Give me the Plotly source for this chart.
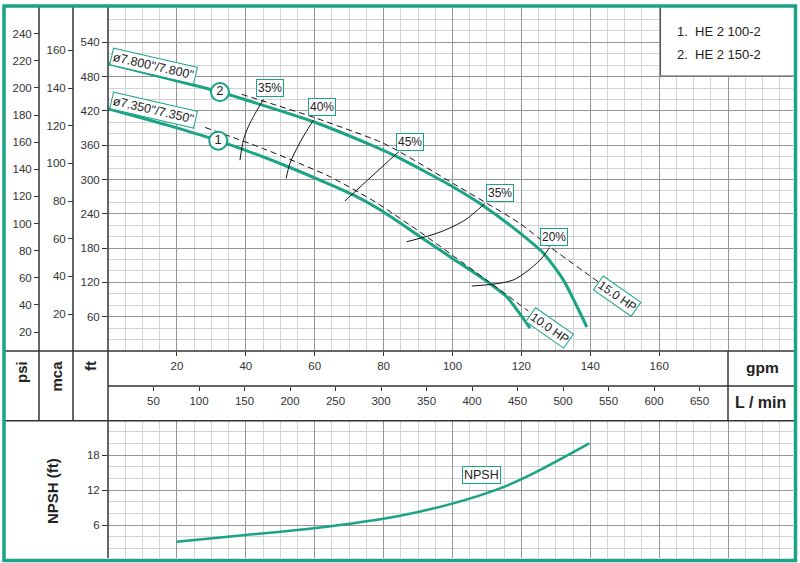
import plotly.graph_objects as go

# ---------------- data ----------------
# pump curve 1 : HE 2 100-2, impeller ø7.350"
q1_gpm = [0, 18.5, 32, 52.8, 71.2, 79, 90.6, 100, 109.9, 115.7, 122.5]
h1_ft = [424, 393, 368, 321, 273, 247, 200, 162, 122, 95, 40]
# pump curve 2 : HE 2 150-2, impeller ø7.800"
q2_gpm = [0, 18.5, 32.5, 59.6, 76.1, 83.8, 100.2, 108.5, 118.6, 126.4, 132.2, 139.0]
h2_ft = [503, 475, 453, 401, 361, 340, 287, 256, 211, 171, 124, 42]
# power limit lines (dashed)
q_10hp = [28.2, 45.1, 64.4, 77.5, 90.6, 109.9, 122]
h_10hp = [391, 354, 305, 261, 208, 124, 70]
q_15hp = [38.8, 59.6, 79, 84.8, 100.2, 119.6, 128.3, 142.3]
h_15hp = [449, 409, 366, 348, 293, 223, 182, 121]
# efficiency iso-lines
eff_names = ["35%", "40%", "45%", "35%", "20%"]
eff_q = [
    [38.3, 39.3, 40.7, 42.7, 45.1],
    [51.7, 52.8, 54.8, 57.2, 59.6],
    [68.8, 76.6, 84.3],
    [86.7, 96.4, 103.6, 109.4],
    [105.6, 117.6, 125.4, 128.1],
]
eff_h = [
    [333.7, 368.7, 392, 415.3, 439.8],
    [301.8, 328, 354.2, 380.4, 403.6],
    [262.6, 305.8, 348.2],
    [191, 208, 229, 258],
    [113.6, 124.1, 159, 180.5],
]
eff_label_q = [47.0, 62.0, 87.7, 113.9, 129.4]
eff_label_h = [459.5, 426.7, 365.2, 277, 199.5]
# NPSH curve
npsh_q = [19.9, 40, 59.6, 84.8, 100.2, 113.8, 123.5, 139.7]
npsh_ft = [3.13, 4.28, 5.43, 7.6, 9.72, 12.29, 14.86, 20.0]
# tick labels
ft_ticks = [60, 120, 180, 240, 300, 360, 420, 480, 540]
psi_ticks = [20, 40, 60, 80, 100, 120, 140, 160, 180, 200, 220, 240]
mca_ticks = [20, 40, 60, 80, 100, 120, 140, 160]
gpm_ticks = [20, 40, 60, 80, 100, 120, 140, 160]
lmin_ticks = [50, 100, 150, 200, 250, 300, 350, 400, 450, 500, 550, 600, 650]
npsh_ticks = [6, 12, 18]
legend_lines = ["1.  HE 2 100-2", "2.  HE 2 150-2"]

# ---------------- styling / geometry ----------------
GREEN = "#1aa385"
MAJOR = "#969696"
MINOR = "#d3d3d3"
LINE = "#333333"
FONT = "Arial, Liberation Sans, sans-serif"
W, H = 800, 563


def fx(p):
    return p / W


def fy(p):
    return 1 - p / H


X0, X1 = 108, 793
Y_TOP, Y_BOT = 8, 351
NP_TOP, NP_BOT = 420.7, 558
PX_PER_GPM = 3.445
GPM_MAX = (X1 - X0) / PX_PER_GPM
LMIN_MAX = GPM_MAX * 3.78541

fig = go.Figure()

# pump curves
for q, h in [(q1_gpm, h1_ft), (q2_gpm, h2_ft)]:
    fig.add_trace(go.Scatter(x=q, y=h, mode="lines",
                             line=dict(color=GREEN, width=3, shape="spline", smoothing=0.6),
                             hoverinfo="skip", showlegend=False))
# HP lines
for q, h in [(q_10hp, h_10hp), (q_15hp, h_15hp)]:
    fig.add_trace(go.Scatter(x=q, y=h, mode="lines",
                             line=dict(color="#111111", width=1, dash="6px,4px", shape="spline", smoothing=0.6),
                             hoverinfo="skip", showlegend=False))
# efficiency lines
for q, h in zip(eff_q, eff_h):
    fig.add_trace(go.Scatter(x=q, y=h, mode="lines",
                             line=dict(color="#111111", width=1, shape="spline", smoothing=0.8),
                             hoverinfo="skip", showlegend=False))
# curve number circles
fig.add_trace(go.Scatter(x=[q2_gpm[2], q1_gpm[2]], y=[h2_ft[2], h1_ft[2]], mode="markers+text",
                         text=["2", "1"], textposition="middle center",
                         textfont=dict(family=FONT, size=13, color="#222"),
                         marker=dict(size=18, color="white", line=dict(color=GREEN, width=2)),
                         hoverinfo="skip", showlegend=False))
# dummy traces to bind the secondary scales
fig.add_trace(go.Scatter(x=[None], y=[None], xaxis="x2", yaxis="y", showlegend=False, hoverinfo="skip"))
fig.add_trace(go.Scatter(x=[None], y=[None], xaxis="x3", yaxis="y", showlegend=False, hoverinfo="skip"))
fig.add_trace(go.Scatter(x=[None], y=[None], xaxis="x", yaxis="y2", showlegend=False, hoverinfo="skip"))
fig.add_trace(go.Scatter(x=[None], y=[None], xaxis="x", yaxis="y3", showlegend=False, hoverinfo="skip"))
# NPSH
fig.add_trace(go.Scatter(x=npsh_q, y=npsh_ft, mode="lines", xaxis="x4", yaxis="y4",
                         line=dict(color=GREEN, width=2.5, shape="spline", smoothing=0.8),
                         hoverinfo="skip", showlegend=False))

tickfont = dict(family=FONT, size=11.5, color="#333")
main_dom_y = [fy(Y_BOT), fy(Y_TOP)]
dom_x = [fx(X0), fx(X1)]

fig.update_layout(
    width=W, height=H, margin=dict(l=0, r=0, t=0, b=0), autosize=False,
    paper_bgcolor="white", plot_bgcolor="white",
    xaxis=dict(domain=dom_x, range=[0, GPM_MAX], anchor="y", dtick=20, tick0=0,
               showgrid=True, gridcolor=MAJOR, gridwidth=1.2, zeroline=False,
               showticklabels=False, ticks="", showline=False,
               minor=dict(dtick=5, tick0=0, showgrid=True, gridcolor=MINOR, gridwidth=1)),
    yaxis=dict(domain=main_dom_y, range=[0, 600], anchor="x", tickvals=ft_ticks,
               showgrid=True, gridcolor=MAJOR, gridwidth=1.2, zeroline=False,
               ticks="outside", ticklen=5, tickcolor=LINE, tickfont=tickfont, showline=False,
               minor=dict(dtick=20, tick0=0, showgrid=True, gridcolor=MINOR, gridwidth=1)),
    yaxis2=dict(overlaying="y", anchor="free", position=fx(39), side="left",
                range=[6, 258.9], tickvals=psi_ticks, showgrid=False, zeroline=False,
                ticks="outside", ticklen=5, tickcolor=LINE, tickfont=tickfont, showline=False),
    yaxis3=dict(overlaying="y", anchor="free", position=fx(73), side="left",
                range=[0.4, 182.5], tickvals=mca_ticks, showgrid=False, zeroline=False,
                ticks="outside", ticklen=5, tickcolor=LINE, tickfont=tickfont, showline=False),
    xaxis2=dict(overlaying="x", anchor="free", position=fy(Y_BOT), side="bottom",
                range=[0, GPM_MAX], tickvals=gpm_ticks, showgrid=False, zeroline=False,
                ticks="outside", ticklen=4, tickcolor=LINE, tickfont=tickfont, showline=False),
    xaxis3=dict(overlaying="x", anchor="free", position=fy(386), side="bottom",
                range=[0, LMIN_MAX], tickvals=lmin_ticks, showgrid=False, zeroline=False,
                ticks="outside", ticklen=4, tickcolor=LINE, tickfont=tickfont, showline=False),
    xaxis4=dict(domain=dom_x, range=[0, GPM_MAX], anchor="y4", dtick=20, tick0=0,
                showgrid=True, gridcolor=MAJOR, gridwidth=1.2, zeroline=False,
                showticklabels=False, ticks="", showline=False,
                minor=dict(dtick=5, tick0=0, showgrid=True, gridcolor=MINOR, gridwidth=1)),
    yaxis4=dict(domain=[fy(NP_BOT), fy(NP_TOP)], range=[0.34, 23.9], anchor="x4",
                tickvals=npsh_ticks, showgrid=True, gridcolor=MAJOR, gridwidth=1.2, zeroline=False,
                ticks="outside", ticklen=5, tickcolor=LINE, tickfont=tickfont, showline=False,
                minor=dict(dtick=2, tick0=0, showgrid=True, gridcolor=MINOR, gridwidth=1)),
)

# ---------------- frame lines ----------------
def pline(x0, y0, x1, y1, color=LINE, width=1.5):
    fig.add_shape(type="line", xref="paper", yref="paper",
                  x0=fx(x0), y0=fy(y0), x1=fx(x1), y1=fy(y1),
                  line=dict(color=color, width=width), layer="above")


pline(39, 6, 39, NP_TOP)
pline(73, 6, 73, NP_TOP)
pline(X0, 6, X0, NP_BOT)
pline(4, Y_BOT, 795, Y_BOT)
pline(X0, 386, 795, 386)
pline(4, NP_TOP, 795, NP_TOP)
pline(728, Y_BOT, 728, NP_TOP)

# legend box
fig.add_shape(type="rect", xref="paper", yref="paper", x0=fx(660.5), y0=fy(76), x1=fx(795), y1=fy(6),
              line=dict(color="#555", width=1), fillcolor="white", layer="above")
for i, t in enumerate(legend_lines):
    fig.add_annotation(xref="paper", yref="paper", x=fx(675), y=fy(31.5 + 23 * i), text=t,
                       xanchor="left", yanchor="middle", showarrow=False,
                       font=dict(family=FONT, size=13, color="#222"))

# outer green border
fig.add_shape(type="rect", xref="paper", yref="paper", x0=fx(4), y0=fy(560.5), x1=fx(795.5), y1=fy(6),
              line=dict(color=GREEN, width=3.5), layer="above")

# ---------------- labels ----------------
bold = dict(family=FONT, size=15, color="#222")
for txt, x in [("<b>psi</b>", 21), ("<b>mca</b>", 56), ("<b>ft</b>", 90)]:
    fig.add_annotation(xref="paper", yref="paper", x=fx(x), y=fy(359), text=txt, textangle=-90,
                       xanchor="center", yanchor="top", showarrow=False, font=bold)
fig.add_annotation(xref="paper", yref="paper", x=fx(762), y=fy(367), text="<b>gpm</b>",
                   xanchor="center", yanchor="middle",
                   showarrow=False, font=dict(family=FONT, size=15.5, color="#222"))
fig.add_annotation(xref="paper", yref="paper", x=fx(760), y=fy(402.5), text="<b>L / min</b>",
                   xanchor="center", yanchor="middle",
                   showarrow=False, font=dict(family=FONT, size=16, color="#222"))
fig.add_annotation(xref="paper", yref="paper", x=fx(52), y=fy(491), text="<b>NPSH (ft)</b>", textangle=-90,
                   xanchor="center", yanchor="middle", showarrow=False, font=bold)

box = dict(bordercolor=GREEN, borderwidth=1, bgcolor="white", borderpad=1, showarrow=False,
           xanchor="center", yanchor="middle")
# impeller labels
fig.add_annotation(x=13.1, y=498, xref="x", yref="y", text="ø7.800\"/7.800\"", textangle=13,
                   font=dict(family=FONT, size=12.5, color="#222"), **box)
fig.add_annotation(x=13.1, y=421, xref="x", yref="y", text="ø7.350\"/7.350\"", textangle=13,
                   font=dict(family=FONT, size=12.5, color="#222"), **box)
# efficiency labels
for name, q, h in zip(eff_names, eff_label_q, eff_label_h):
    fig.add_annotation(x=q, y=h, xref="x", yref="y", text=name,
                       font=dict(family=FONT, size=12, color="#222"), **box)
# HP labels
fig.add_annotation(x=128.2, y=40, xref="x", yref="y", text="10.0 HP", textangle=35,
                   font=dict(family=FONT, size=12, color="#222"), **box)
fig.add_annotation(x=147.8, y=97, xref="x", yref="y", text="15.0 HP", textangle=35,
                   font=dict(family=FONT, size=12, color="#222"), **box)
# NPSH label
fig.add_annotation(x=108.3, y=14.5, xref="x4", yref="y4", text="NPSH",
                   font=dict(family=FONT, size=12.5, color="#222"), **box)

fig.write_html("out.html")
